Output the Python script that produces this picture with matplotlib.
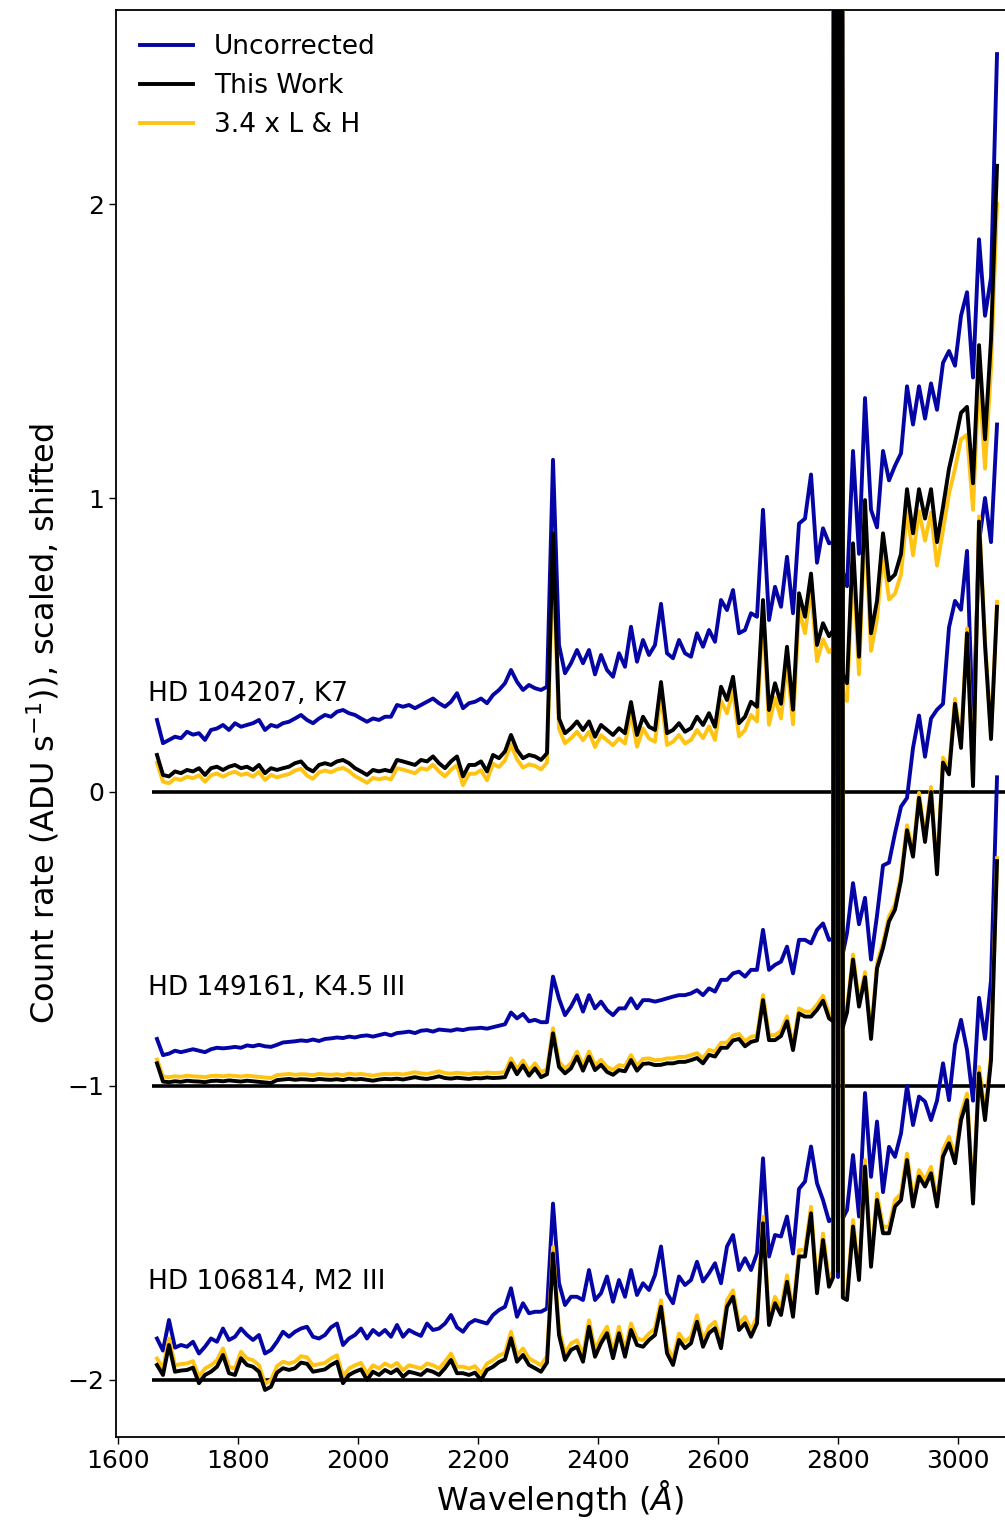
import numpy as np
import matplotlib
matplotlib.use("Agg")
import matplotlib.pyplot as plt

# ---------------- data ----------------
# wavelength grid (Angstrom): 10 A steps, finer around the Mg II h&k doublet
WAVELENGTH = np.concatenate([np.arange(1665, 2786, 10),
                             [2792, 2796, 2800, 2804, 2808],
                             np.arange(2815, 3066, 10)])

STAR_LABELS = ["HD 104207, K7", "HD 149161, K4.5 III", "HD 106814, M2 III"]
STAR_SHIFTS = [0.0, -1.0, -2.0]
SERIES_NAMES = ["Uncorrected", "This Work", "3.4 x L & H"]

# ---- HD 104207 ----
S1_UNCORR = [
    0.245, 0.166, 0.177, 0.188, 0.183, 0.205, 0.195, 0.200, 0.177, 0.211,
    0.216, 0.228, 0.211, 0.234, 0.222, 0.228, 0.234, 0.245, 0.211, 0.228,
    0.222, 0.234, 0.239, 0.250, 0.262, 0.245, 0.234, 0.250, 0.262, 0.256,
    0.273, 0.279, 0.268, 0.262, 0.250, 0.239, 0.250, 0.245, 0.256, 0.256,
    0.296, 0.290, 0.296, 0.285, 0.296, 0.307, 0.318, 0.302, 0.290, 0.307,
    0.336, 0.285, 0.302, 0.307, 0.318, 0.302, 0.330, 0.347, 0.370, 0.415,
    0.375, 0.347, 0.364, 0.353, 0.347, 0.358, 1.130, 0.500, 0.404, 0.438,
    0.483, 0.438, 0.483, 0.400, 0.466, 0.415, 0.392, 0.472, 0.426, 0.562,
    0.443, 0.517, 0.466, 0.500, 0.640, 0.472, 0.455, 0.517, 0.472, 0.460,
    0.540, 0.494, 0.551, 0.511, 0.653, 0.619, 0.687, 0.540, 0.551, 0.608,
    0.596, 0.960, 0.585, 0.698, 0.630, 0.800, 0.608, 0.913, 0.930, 1.080,
    0.780, 0.897, 0.846,
    0.850, 12.0, 1.000, 12.0, 0.750,
    0.700, 1.160, 0.810, 1.340, 0.960, 0.900, 1.160, 1.060, 1.110, 1.152,
    1.380, 1.250, 1.380, 1.270, 1.390, 1.300, 1.460, 1.500, 1.450, 1.620,
    1.700, 1.410, 1.880, 1.620, 1.750, 2.510]
S1_THISWORK = [
    0.126, 0.058, 0.053, 0.070, 0.064, 0.075, 0.070, 0.081, 0.058, 0.081,
    0.086, 0.075, 0.086, 0.092, 0.081, 0.086, 0.075, 0.092, 0.064, 0.081,
    0.075, 0.081, 0.086, 0.098, 0.104, 0.081, 0.070, 0.092, 0.098, 0.092,
    0.104, 0.109, 0.098, 0.081, 0.070, 0.058, 0.075, 0.070, 0.075, 0.070,
    0.109, 0.104, 0.098, 0.092, 0.109, 0.104, 0.121, 0.098, 0.081, 0.104,
    0.121, 0.053, 0.092, 0.092, 0.104, 0.070, 0.126, 0.115, 0.138, 0.194,
    0.143, 0.115, 0.126, 0.121, 0.109, 0.132, 0.880, 0.250, 0.200, 0.217,
    0.240, 0.211, 0.240, 0.188, 0.228, 0.211, 0.194, 0.217, 0.200, 0.306,
    0.194, 0.256, 0.222, 0.211, 0.374, 0.200, 0.211, 0.234, 0.205, 0.217,
    0.256, 0.228, 0.268, 0.222, 0.358, 0.313, 0.392, 0.234, 0.256, 0.307,
    0.290, 0.653, 0.279, 0.370, 0.300, 0.494, 0.280, 0.676, 0.596, 0.743,
    0.500, 0.574, 0.530,
    0.550, 12.0, 0.650, 12.0, 0.400,
    0.370, 0.846, 0.460, 0.993, 0.540, 0.650, 0.880, 0.720, 0.740, 0.810,
    1.030, 0.880, 1.030, 0.930, 1.030, 0.850, 0.970, 1.100, 1.190, 1.290,
    1.310, 1.050, 1.520, 1.200, 1.540, 2.130]
S1_LH = [
    0.100, 0.035, 0.030, 0.046, 0.041, 0.052, 0.047, 0.057, 0.035, 0.057,
    0.063, 0.052, 0.063, 0.069, 0.058, 0.063, 0.052, 0.069, 0.041, 0.058,
    0.050, 0.056, 0.061, 0.073, 0.079, 0.056, 0.045, 0.067, 0.073, 0.067,
    0.077, 0.082, 0.071, 0.054, 0.043, 0.031, 0.048, 0.043, 0.048, 0.043,
    0.081, 0.076, 0.070, 0.064, 0.081, 0.076, 0.093, 0.070, 0.053, 0.076,
    0.091, 0.023, 0.062, 0.062, 0.074, 0.040, 0.096, 0.085, 0.108, 0.162,
    0.111, 0.083, 0.094, 0.089, 0.077, 0.100, 0.800, 0.215, 0.166, 0.183,
    0.205, 0.176, 0.205, 0.153, 0.193, 0.176, 0.159, 0.182, 0.165, 0.268,
    0.154, 0.216, 0.182, 0.171, 0.330, 0.160, 0.171, 0.194, 0.165, 0.177,
    0.211, 0.183, 0.223, 0.177, 0.310, 0.268, 0.345, 0.189, 0.211, 0.262,
    0.240, 0.600, 0.229, 0.320, 0.250, 0.440, 0.230, 0.620, 0.540, 0.690,
    0.445, 0.519, 0.475,
    0.490, 12.0, 0.590, 12.0, 0.340,
    0.310, 0.780, 0.400, 0.930, 0.480, 0.590, 0.815, 0.655, 0.675, 0.740,
    0.955, 0.805, 0.955, 0.855, 0.950, 0.770, 0.890, 1.015, 1.100, 1.200,
    1.215, 0.960, 1.420, 1.100, 1.440, 2.000]

# ---- HD 149161 ----
S2_UNCORR = [
    0.160, 0.105, 0.110, 0.120, 0.115, 0.120, 0.125, 0.120, 0.115, 0.125,
    0.130, 0.128, 0.130, 0.133, 0.130, 0.138, 0.135, 0.140, 0.135, 0.133,
    0.140, 0.148, 0.150, 0.152, 0.155, 0.153, 0.158, 0.153, 0.160, 0.162,
    0.165, 0.163, 0.168, 0.165, 0.170, 0.172, 0.168, 0.173, 0.178, 0.172,
    0.180, 0.182, 0.185, 0.180, 0.188, 0.190, 0.185, 0.192, 0.190, 0.188,
    0.193, 0.190, 0.195, 0.196, 0.198, 0.195, 0.200, 0.205, 0.210, 0.250,
    0.230, 0.245, 0.220, 0.225, 0.217, 0.217, 0.372, 0.297, 0.241, 0.270,
    0.309, 0.253, 0.309, 0.264, 0.287, 0.258, 0.241, 0.264, 0.264, 0.298,
    0.264, 0.292, 0.292, 0.287, 0.292, 0.298, 0.304, 0.309, 0.309, 0.315,
    0.326, 0.309, 0.332, 0.321, 0.361, 0.361, 0.383, 0.389, 0.372, 0.395,
    0.395, 0.531, 0.395, 0.412, 0.423, 0.474, 0.383, 0.497, 0.497, 0.485,
    0.531, 0.553, 0.497,
    0.500, 12.0, 0.600, 12.0, 0.450,
    0.520, 0.690, 0.550, 0.640, 0.430, 0.580, 0.750, 0.760, 0.860, 0.950,
    0.980, 1.150, 1.260, 1.120, 1.250, 1.280, 1.300, 1.560, 1.650, 1.620,
    1.820, 1.200, 1.850, 2.000, 1.850, 2.250]
S2_THISWORK = [
    0.077, 0.015, 0.013, 0.016, 0.014, 0.018, 0.016, 0.015, 0.013, 0.017,
    0.018, 0.016, 0.019, 0.017, 0.015, 0.018, 0.016, 0.014, 0.012, 0.010,
    0.020, 0.022, 0.024, 0.021, 0.023, 0.022, 0.020, 0.024, 0.022, 0.021,
    0.023, 0.020, 0.025, 0.022, 0.024, 0.021, 0.018, 0.022, 0.024, 0.023,
    0.025, 0.022, 0.026, 0.030, 0.026, 0.024, 0.028, 0.033, 0.027, 0.025,
    0.028, 0.026, 0.024, 0.027, 0.026, 0.029, 0.027, 0.028, 0.030, 0.077,
    0.040, 0.070, 0.035, 0.060, 0.030, 0.040, 0.179, 0.065, 0.043, 0.060,
    0.100, 0.052, 0.100, 0.054, 0.072, 0.048, 0.038, 0.054, 0.050, 0.088,
    0.052, 0.075, 0.077, 0.071, 0.072, 0.077, 0.077, 0.082, 0.082, 0.088,
    0.095, 0.077, 0.106, 0.100, 0.130, 0.130, 0.155, 0.160, 0.135, 0.150,
    0.155, 0.292, 0.156, 0.156, 0.170, 0.220, 0.122, 0.247, 0.236, 0.236,
    0.259, 0.290, 0.230,
    0.220, 12.0, 0.100, 12.0, 0.200,
    0.250, 0.430, 0.270, 0.370, 0.160, 0.400, 0.470, 0.560, 0.600, 0.700,
    0.870, 0.780, 0.980, 0.830, 1.000, 0.720, 1.100, 1.060, 1.300, 1.150,
    1.540, 1.020, 1.920, 1.500, 1.180, 1.630]
S2_LH = [
    0.090, 0.032, 0.030, 0.033, 0.031, 0.035, 0.033, 0.032, 0.030, 0.034,
    0.035, 0.033, 0.036, 0.034, 0.032, 0.035, 0.033, 0.031, 0.029, 0.027,
    0.037, 0.039, 0.041, 0.038, 0.040, 0.039, 0.037, 0.041, 0.039, 0.038,
    0.040, 0.037, 0.042, 0.039, 0.041, 0.038, 0.035, 0.039, 0.041, 0.040,
    0.042, 0.039, 0.043, 0.047, 0.043, 0.041, 0.045, 0.050, 0.044, 0.042,
    0.045, 0.043, 0.041, 0.044, 0.043, 0.046, 0.044, 0.045, 0.047, 0.094,
    0.057, 0.087, 0.052, 0.077, 0.047, 0.057, 0.196, 0.082, 0.060, 0.077,
    0.117, 0.069, 0.117, 0.071, 0.089, 0.065, 0.055, 0.071, 0.067, 0.105,
    0.069, 0.092, 0.094, 0.088, 0.089, 0.094, 0.094, 0.099, 0.099, 0.105,
    0.112, 0.094, 0.123, 0.117, 0.147, 0.147, 0.172, 0.177, 0.152, 0.167,
    0.172, 0.309, 0.173, 0.173, 0.187, 0.237, 0.139, 0.264, 0.253, 0.253,
    0.276, 0.307, 0.247,
    0.237, 12.0, 0.117, 12.0, 0.217,
    0.267, 0.447, 0.287, 0.387, 0.177, 0.417, 0.487, 0.577, 0.617, 0.717,
    0.887, 0.797, 0.997, 0.847, 1.017, 0.737, 1.117, 1.077, 1.317, 1.167,
    1.557, 1.037, 1.937, 1.517, 1.197, 1.647]

# ---- HD 106814 ----
S3_UNCORR = [
    0.141, 0.100, 0.204, 0.110, 0.119, 0.113, 0.130, 0.090, 0.113, 0.141,
    0.130, 0.175, 0.136, 0.147, 0.175, 0.153, 0.136, 0.153, 0.090, 0.102,
    0.130, 0.164, 0.147, 0.164, 0.175, 0.181, 0.147, 0.141, 0.153, 0.179,
    0.192, 0.119, 0.141, 0.153, 0.175, 0.141, 0.170, 0.153, 0.170, 0.147,
    0.187, 0.147, 0.170, 0.159, 0.150, 0.192, 0.170, 0.175, 0.192, 0.221,
    0.179, 0.164, 0.192, 0.204, 0.198, 0.192, 0.221, 0.238, 0.249, 0.312,
    0.215, 0.261, 0.227, 0.232, 0.232, 0.243, 0.600, 0.330, 0.255, 0.283,
    0.283, 0.272, 0.374, 0.272, 0.295, 0.352, 0.266, 0.340, 0.283, 0.374,
    0.289, 0.329, 0.306, 0.357, 0.454, 0.295, 0.261, 0.352, 0.323, 0.340,
    0.402, 0.335, 0.363, 0.397, 0.329, 0.454, 0.493, 0.374, 0.414, 0.374,
    0.431, 0.754, 0.420, 0.493, 0.488, 0.556, 0.430, 0.650, 0.675, 0.794,
    0.669, 0.612, 0.540,
    0.550, 12.0, 0.350, 12.0, 0.550,
    0.578, 0.765, 0.556, 0.976, 0.691, 0.879, 0.639, 0.793, 0.759, 0.839,
    1.000, 0.867, 0.964, 0.947, 0.884, 0.950, 1.077, 0.952, 1.140, 1.225,
    1.122, 0.950, 1.300, 1.160, 1.360, 2.050]
S3_THISWORK = [
    0.051, 0.017, 0.119, 0.028, 0.032, 0.034, 0.042, -0.011, 0.017, 0.028,
    0.045, 0.085, 0.023, 0.017, 0.074, 0.051, 0.045, 0.028, -0.034, -0.023,
    0.025, 0.040, 0.034, 0.040, 0.059, 0.055, 0.028, 0.032, 0.036, 0.051,
    0.062, -0.011, 0.017, 0.028, 0.036, 0.000, 0.028, 0.017, 0.034, 0.023,
    0.036, 0.011, 0.028, 0.023, 0.017, 0.034, 0.028, 0.017, 0.040, 0.068,
    0.023, 0.023, 0.017, 0.025, 0.000, 0.034, 0.045, 0.061, 0.070, 0.142,
    0.062, 0.085, 0.051, 0.040, 0.028, 0.059, 0.430, 0.153, 0.068, 0.102,
    0.113, 0.062, 0.181, 0.079, 0.125, 0.159, 0.074, 0.159, 0.079, 0.170,
    0.119, 0.113, 0.136, 0.153, 0.249, 0.091, 0.051, 0.136, 0.108, 0.125,
    0.198, 0.113, 0.159, 0.176, 0.108, 0.249, 0.283, 0.170, 0.193, 0.147,
    0.193, 0.533, 0.187, 0.261, 0.221, 0.334, 0.215, 0.420, 0.420, 0.567,
    0.295, 0.476, 0.317,
    0.350, 12.0, 0.370, 12.0, 0.280,
    0.272, 0.522, 0.340, 0.726, 0.385, 0.612, 0.499, 0.499, 0.590, 0.612,
    0.748, 0.590, 0.692, 0.658, 0.703, 0.590, 0.760, 0.805, 0.737, 0.884,
    0.952, 0.600, 1.043, 0.884, 1.088, 1.765]
S3_LH = [
    0.073, 0.039, 0.141, 0.050, 0.054, 0.056, 0.064, 0.011, 0.039, 0.050,
    0.067, 0.107, 0.045, 0.039, 0.096, 0.073, 0.067, 0.050, -0.012, -0.001,
    0.047, 0.062, 0.056, 0.062, 0.081, 0.077, 0.050, 0.054, 0.058, 0.073,
    0.084, 0.011, 0.039, 0.050, 0.058, 0.022, 0.050, 0.039, 0.056, 0.045,
    0.058, 0.033, 0.050, 0.045, 0.039, 0.056, 0.050, 0.039, 0.062, 0.090,
    0.045, 0.045, 0.039, 0.047, 0.022, 0.056, 0.067, 0.083, 0.092, 0.164,
    0.084, 0.107, 0.073, 0.062, 0.050, 0.081, 0.452, 0.175, 0.090, 0.124,
    0.135, 0.084, 0.203, 0.101, 0.147, 0.181, 0.096, 0.181, 0.101, 0.192,
    0.141, 0.135, 0.158, 0.175, 0.271, 0.113, 0.073, 0.158, 0.130, 0.147,
    0.220, 0.135, 0.181, 0.198, 0.130, 0.271, 0.305, 0.192, 0.215, 0.169,
    0.215, 0.555, 0.209, 0.283, 0.243, 0.356, 0.237, 0.442, 0.442, 0.589,
    0.317, 0.498, 0.339,
    0.372, 12.0, 0.392, 12.0, 0.302,
    0.294, 0.544, 0.362, 0.748, 0.407, 0.634, 0.521, 0.521, 0.612, 0.634,
    0.770, 0.612, 0.714, 0.680, 0.725, 0.612, 0.782, 0.827, 0.759, 0.906,
    0.974, 0.622, 1.065, 0.906, 1.110, 1.775]

STARS = [(S1_UNCORR, S1_THISWORK, S1_LH),
         (S2_UNCORR, S2_THISWORK, S2_LH),
         (S3_UNCORR, S3_THISWORK, S3_LH)]

# ---------------- style ----------------
C_BLUE = "#0505a5"
C_BLACK = "#000000"
C_YELLOW = "#ffc413"
LW = 2.8

plt.rcParams["font.family"] = ["DejaVu Sans"]
plt.rcParams["mathtext.fontset"] = "dejavusans"

fig = plt.figure(figsize=(10.05, 15.34), dpi=100)
W, H = 1005.0, 1534.0
ax = fig.add_axes([116 / W, 97 / H, 1 - 116 / W, (1437 - 10) / H])

x_lo, x_hi = 1596.7, 3078.3
ax.set_xlim(x_lo, x_hi)
ax.set_ylim(-2.194, 2.660)

wl = np.asarray(WAVELENGTH, dtype=float)

# baselines
ax.hlines(STAR_SHIFTS, wl[0] - 8, x_hi + 50, colors="black", lw=2.6, zorder=1)

for (unc, tw, lh), shift, label in zip(STARS, STAR_SHIFTS, STAR_LABELS):
    assert len(unc) == len(wl) and len(tw) == len(wl) and len(lh) == len(wl)
    ax.plot(wl, np.asarray(unc) + shift, color=C_BLUE, lw=LW, zorder=2)
    ax.plot(wl, np.asarray(lh) + shift, color=C_YELLOW, lw=LW, zorder=3)
    ax.plot(wl, np.asarray(tw) + shift, color=C_BLACK, lw=LW, zorder=4)
    ax.text(1650, shift + 0.333, label, fontsize=19, va="center", ha="left")

handles = [plt.Line2D([], [], color=c, lw=LW) for c in (C_BLUE, C_BLACK, C_YELLOW)]
ax.legend(handles, SERIES_NAMES, loc="upper left", frameon=False, fontsize=19)

ax.set_xticks([1600, 1800, 2000, 2200, 2400, 2600, 2800, 3000])
ax.set_yticks([-2, -1, 0, 1, 2])
ax.tick_params(labelsize=18, length=5, width=1.0)
for s in ("left", "bottom", "top"):
    ax.spines[s].set_linewidth(1.3)
ax.spines["right"].set_visible(False)

ax.set_xlabel(r"Wavelength ($\AA$)", fontsize=23)
ax.set_ylabel(r"Count rate (ADU s$^{-1}$)), scaled, shifted", fontsize=23)

fig.savefig("out.png", dpi=100)
